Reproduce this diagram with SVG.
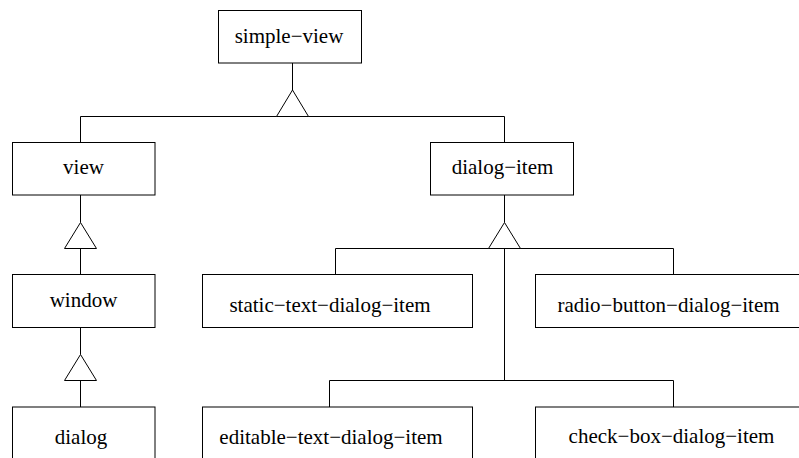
<svg xmlns="http://www.w3.org/2000/svg" width="799" height="458" viewBox="0 0 799 458">
  <style>
    .box { fill: #ffffff; stroke: #000000; stroke-width: 1; }
    .lbl { font-family: "Liberation Serif", "Times New Roman", serif; font-size: 21px; fill: #000000; text-anchor: middle; }
    .wire { fill: none; stroke: #000000; stroke-width: 1; }
    .tri { fill: #ffffff; stroke: #000000; stroke-width: 1; stroke-linejoin: miter; }
  </style>
  <rect x="0" y="0" width="799" height="458" fill="#ffffff"/>

  <!-- inheritance connectors -->
  <g id="connectors">
    <!-- simple-view -> view / dialog-item -->
    <path class="wire" d="M292.5,63 V90 M80.5,142.5 V116.5 H504.5 V142.5"/>
    <polygon class="tri" points="292.5,90 276.5,116.5 308.5,116.5"/>

    <!-- view -> window -->
    <path class="wire" d="M80.5,195 V222.5 M80.5,248.5 V274.5"/>
    <polygon class="tri" points="80.5,222.5 64.5,248.5 96.5,248.5"/>

    <!-- window -> dialog -->
    <path class="wire" d="M80.5,327.5 V354.5 M80.5,380.5 V407"/>
    <polygon class="tri" points="80.5,354.5 64.5,380.5 96.5,380.5"/>

    <!-- dialog-item -> its four subclasses -->
    <path class="wire" d="M504.5,195 V222.5"/>
    <path class="wire" d="M335.5,274.5 V248.5 H673.5 V274.5"/>
    <path class="wire" d="M504.5,248.5 V380.5"/>
    <path class="wire" d="M329.5,407 V380.5 H673.5 V407"/>
    <polygon class="tri" points="504.5,222.5 488.5,248.5 520.5,248.5"/>
  </g>

  <g id="simple-view">
    <rect class="box" x="218.5" y="10.5" width="143" height="52.5"/>
    <text class="lbl" x="289" y="43">simple−view</text>
  </g>

  <g id="view">
    <rect class="box" x="12.5" y="142.5" width="142.5" height="52.5"/>
    <text class="lbl" x="83.5" y="174">view</text>
  </g>

  <g id="window">
    <rect class="box" x="12.5" y="274.5" width="142.5" height="53"/>
    <text class="lbl" x="83.5" y="307">window</text>
  </g>

  <g id="dialog">
    <rect class="box" x="12.5" y="407" width="142.5" height="60"/>
    <text class="lbl" x="81" y="444">dialog</text>
  </g>

  <g id="dialog-item">
    <rect class="box" x="430.5" y="142.5" width="143" height="52.5"/>
    <text class="lbl" x="502.5" y="174">dialog−item</text>
  </g>

  <g id="static-text-dialog-item">
    <rect class="box" x="202.5" y="274.5" width="270" height="53"/>
    <text class="lbl" x="330" y="312">static−text−dialog−item</text>
  </g>

  <g id="radio-button-dialog-item">
    <rect class="box" x="535.5" y="274.5" width="270" height="53"/>
    <text class="lbl" x="668.5" y="312">radio−button−dialog−item</text>
  </g>

  <g id="editable-text-dialog-item">
    <rect class="box" x="202.5" y="407" width="270" height="60"/>
    <text class="lbl" x="331" y="444">editable−text−dialog−item</text>
  </g>

  <g id="check-box-dialog-item">
    <rect class="box" x="535.5" y="407" width="275" height="60"/>
    <text class="lbl" x="671.5" y="443">check−box−dialog−item</text>
  </g>
</svg>
